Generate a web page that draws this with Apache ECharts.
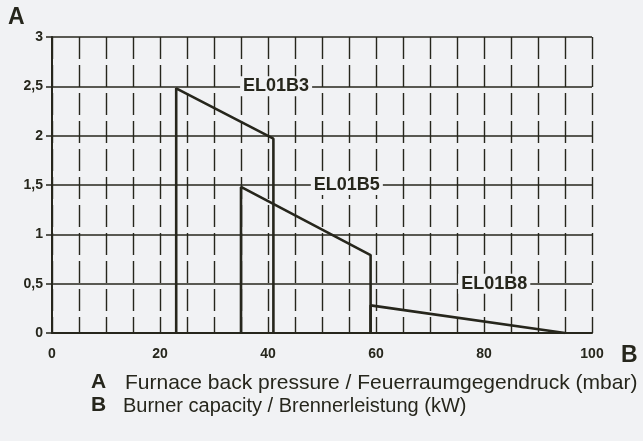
<!DOCTYPE html>
<html>
<head>
<meta charset="utf-8">
<script src="https://cdn.jsdelivr.net/npm/echarts@6/dist/echarts.min.js"></script>
<style>
html,body{margin:0;padding:0;background:#f1f2f4;}
#c{width:643px;height:441px;}
</style>
</head>
<body>
<div id="c"></div>
<script>
// Data
var seriesNames = ['EL01B3', 'EL01B5', 'EL01B8'];
var el01b3 = [[23, 0], [23, 2.48], [41, 1.97], [41, 0]];
var el01b5 = [[35, 0], [35, 1.48], [59, 0.79], [59, 0]];
var el01b8 = [[59, 0], [59, 0.28], [95, 0]];
var xTickLabels = [0, 20, 40, 60, 80, 100];
var yTickLabels = ['0', '0,5', '1', '1,5', '2', '2,5', '3'];
var axisNameA = 'A';
var axisNameB = 'B';
var legendA = 'Furnace back pressure / Feuerraumgegendruck (mbar)';
var legendB = 'Burner capacity / Brennerleistung (kW)';

var ink = '#26261c';
var bg = '#f1f2f4';
var font = '"Liberation Sans", Arial, sans-serif';

var chart = echarts.init(document.getElementById('c'));

function mkSeries(name, data, labelCoord) {
  return {
    type: 'line',
    name: name,
    data: data,
    showSymbol: false,
    symbol: 'none',
    lineStyle: { color: ink, width: 2.6 },
    z: 5,
    markPoint: {
      symbol: 'rect',
      symbolSize: 1,
      itemStyle: { color: 'rgba(0,0,0,0)' },
      data: [{
        coord: labelCoord,
        label: {
          show: true,
          formatter: name,
          position: 'inside',
          color: ink,
          fontFamily: font,
          fontWeight: 'bold',
          fontSize: 18,
          backgroundColor: bg,
          padding: [1, 3, 1, 3]
        }
      }]
    }
  };
}

var option = {
  backgroundColor: bg,
  animation: false,
  grid: { left: 52, right: 51, top: 37, bottom: 108, containLabel: false },
  xAxis: {
    type: 'value',
    min: 0, max: 100, interval: 5,
    axisLine: { show: true, lineStyle: { color: ink, width: 2 } },
    axisTick: { show: false },
    axisLabel: {
      margin: 14,
      color: ink, fontFamily: font, fontSize: 14, fontWeight: 'bold',
      formatter: function (v) { return xTickLabels.indexOf(v) >= 0 ? String(v) : ''; }
    },
    splitLine: { show: true, lineStyle: { color: ink, width: 1.4, type: [22, 6] } }
  },
  yAxis: {
    type: 'value',
    min: 0, max: 3, interval: 0.5,
    axisLine: { show: true, lineStyle: { color: ink, width: 2 } },
    axisTick: { show: true, length: 6, lineStyle: { color: ink, width: 1.5 } },
    axisLabel: {
      margin: 9,
      color: ink, fontFamily: font, fontSize: 14, fontWeight: 'bold',
      formatter: function (v) { return yTickLabels[Math.round(v * 2)]; }
    },
    splitLine: { show: true, lineStyle: { color: ink, width: 1.7, type: 'solid' } }
  },
  series: [
    mkSeries(seriesNames[0], el01b3, [41.5, 2.5]),
    mkSeries(seriesNames[1], el01b5, [54.6, 1.5]),
    mkSeries(seriesNames[2], el01b8, [81.9, 0.5])
  ],
  graphic: [
    { type: 'text', left: 8, top: 6, style: { text: axisNameA, fill: ink, font: 'bold 23px ' + font } },
    { type: 'text', left: 621, top: 344, style: { text: axisNameB, fill: ink, font: 'bold 23px ' + font } },
    { type: 'text', left: 91, top: 372, style: { text: 'A', fill: ink, font: 'bold 21px ' + font } },
    { type: 'text', left: 125, top: 373, style: { text: legendA, fill: ink, font: '21px ' + font } },
    { type: 'text', left: 91, top: 395, style: { text: 'B', fill: ink, font: 'bold 21px ' + font } },
    { type: 'text', left: 123, top: 396, style: { text: legendB, fill: ink, font: '20px ' + font } }
  ]
};
chart.setOption(option);
</script>
</body>
</html>
